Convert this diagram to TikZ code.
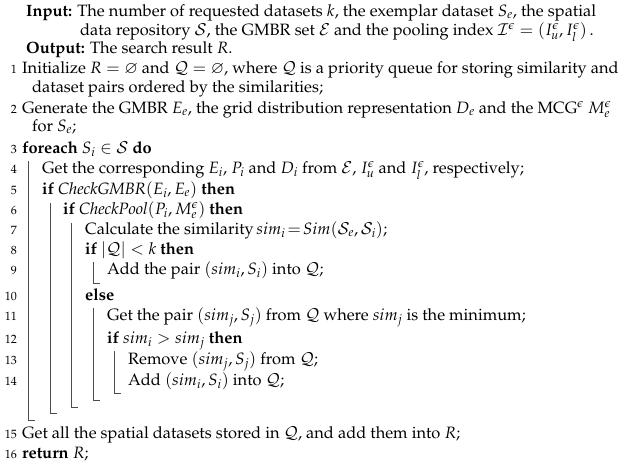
\documentclass[tikz,border=0pt]{standalone}
\usepackage[T1]{fontenc}
\usepackage{mathpazo}
\usepackage{amssymb}
\begin{document}
\begin{tikzpicture}[x=1pt,y=-1pt,
  txt/.style={anchor=mid west,inner sep=0pt,font=\fontsize{16.4}{20}\selectfont},
  num/.style={anchor=mid east,inner sep=0pt,font=\fontsize{12}{14}\selectfont},
  bar/.style={line width=0.6pt,black!70}]
\useasboundingbox[fill=white] (0,0) rectangle (624,466);
\def\Q{\mathcal{Q}}
\node[txt] (in) at (26,14) {\textbf{Input:} The number of requested datasets $k$, the exemplar dataset $S_e$, the spatial};
\node[txt] (in2) at (80,33) {data repository $\mathcal{S}$, the GMBR set $\mathcal{E}$ and the pooling index $\mathcal{I}^\epsilon=(I^\epsilon_u,I^\epsilon_l)$\,.};
\node[txt] (out) at (26,51) {\textbf{Output:} The search result $R$.};
\node[num] (n1) at (17,71) {1}; \node[txt] (l1) at (22,71) {Initialize $R=\varnothing$ and $\Q=\varnothing$, where $\Q$ is a priority queue for storing similarity and};
\node[txt] (l1b) at (32,90) {dataset pairs ordered by the similarities;};
\node[num] (n2) at (17,111) {2}; \node[txt] (l2) at (22,111) {Generate the GMBR $E_e$, the grid distribution representation $D_e$ and the MCG$^\epsilon$ $M^\epsilon_e$};
\node[txt] (l2b) at (32,129) {for $S_e$;};
\node[num] (n3) at (17,151) {3}; \node[txt] (l3) at (22,151) {\textbf{foreach} $S_i\in\mathcal{S}$ \textbf{do}};
\node[num] (n4) at (17,171) {4}; \node[txt] (l4) at (42,171) {Get the corresponding $E_i$, $P_i$ and $D_i$ from $\mathcal{E}$, $I^\epsilon_u$ and $I^\epsilon_l$, respectively;};
\node[num] (n5) at (17,192) {5}; \node[txt] (l5) at (42,192) {\textbf{if} \textit{CheckGMBR}$(E_i,E_e)$ \textbf{then}};
\node[num] (n6) at (17,212) {6}; \node[txt] (l6) at (63,212) {\textbf{if} \textit{CheckPool}$(P_i,M^\epsilon_e)$ \textbf{then}};
\node[num] (n7) at (17,232) {7}; \node[txt] (l7) at (85,232) {Calculate the similarity$\,sim_i\!=\!Sim(\mathcal{S}_e,\mathcal{S}_i)$;};
\node[num] (n8) at (17,252) {8}; \node[txt] (l8) at (85,252) {\textbf{if} $|\Q|<k$ \textbf{then}};
\node[num] (n9) at (17,272) {9}; \node[txt] (l9) at (107,272) {Add the pair $(sim_i,S_i)$ into $\Q$;};
\node[num] (n10) at (17,298) {10}; \node[txt] (l10) at (85,298) {\textbf{else}};
\node[num] (n11) at (17,318) {11}; \node[txt] (l11) at (107,318) {Get the pair $(sim_j,S_j)$ from $\Q$ where $sim_j$ is the minimum;};
\node[num] (n12) at (17,341) {12}; \node[txt] (l12) at (107,341) {\textbf{if} $sim_i>sim_j$ \textbf{then}};
\node[num] (n13) at (17,362) {13}; \node[txt] (l13) at (128,362) {Remove $(sim_j,S_j)$ from $\Q$;};
\node[num] (n14) at (17,383) {14}; \node[txt] (l14) at (128,383) {Add $(sim_i,S_i)$ into $\Q$;};
\node[num] (n15) at (17,436) {15}; \node[txt] (l15) at (22,436) {Get all the spatial datasets stored in $\Q$, and add them into $R$;};
\node[num] (n16) at (17,456) {16}; \node[txt] (l16) at (22,456) {\textbf{return} $R$;};
\coordinate (b1) at (28,161); \coordinate (e1) at (35,420);
\coordinate (b2) at (50,203); \coordinate (e2) at (57,413);
\coordinate (b3) at (71,223); \coordinate (e3) at (78,407);
\coordinate (b4) at (93,262); \coordinate (e4) at (100,283);
\coordinate (b5) at (93,308); \coordinate (e5) at (100,400);
\coordinate (b6) at (114,351); \coordinate (e6) at (121,393);
\foreach \i in {1,...,6}{\draw[bar] (b\i) |- (e\i);}
\end{tikzpicture}
\end{document}
